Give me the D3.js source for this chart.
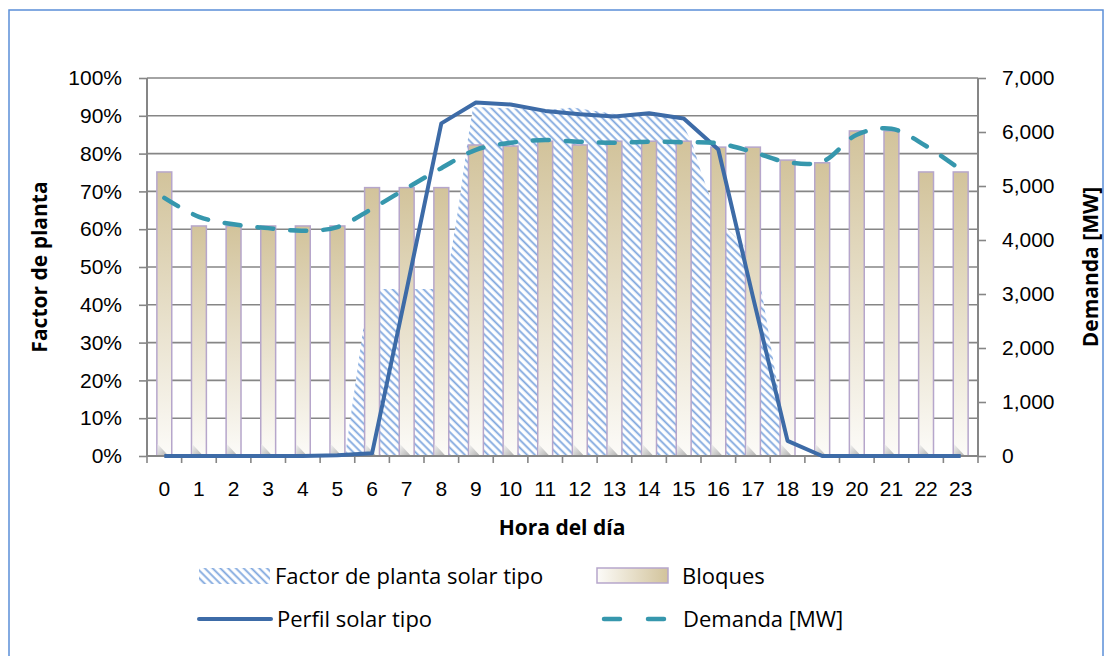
<!DOCTYPE html>
<html>
<head>
<meta charset="utf-8">
<script src="https://cdn.jsdelivr.net/npm/d3@7/dist/d3.min.js"></script>
<style>
  html, body { margin: 0; padding: 0; background: #fff; }
  svg { display: block; font-family: "Open Sans", Lato, sans-serif; }
  .tick-label { font-size: 21px; fill: #000; }
  .axis-title { font-size: 21px; font-weight: bold; fill: #000; }
  .legend-label { font-size: 22px; fill: #000; }
</style>
</head>
<body>
<svg id="chart" width="1113" height="656"></svg>
<script>
(function () {

    // categories (hora del dia)
    var horas = d3.range(0, 24);

    // Bloques [MW] (bars, right axis)
    var bloques = [5260, 4260, 4260, 4260, 4260, 4260, 4970, 4970, 4970, 5760, 5740, 5830,
                   5760, 5830, 5830, 5830, 5720, 5720, 5480, 5430, 6020, 6020, 5260, 5260];

    // Demanda [MW] (dashed line, right axis)
    var demanda = [4780, 4430, 4290, 4220, 4170, 4240, 4580, 4960, 5330, 5670, 5800, 5850,
                   5820, 5800, 5820, 5810, 5790, 5630, 5440, 5450, 5950, 6060, 5740, 5300];

    // Perfil solar tipo (solid line, left axis)
    var perfilSolar = [0, 0, 0, 0, 0, 0.002, 0.007, 0.44, 0.88, 0.935, 0.93, 0.913,
                       0.904, 0.898, 0.907, 0.893, 0.811, 0.421, 0.04, 0, 0, 0, 0, 0];

    // Factor de planta solar tipo (hatched area, left axis), sub-hourly points
    var factorHoras = [5.72, 6.24, 6.41, 8.62, 8.75, 9.0, 9.27, 9.42, 10.5, 11.5, 12.3, 13.5,
                       14.5, 15.2, 15.45, 15.74, 15.97, 16.26, 16.72, 17.27, 17.73, 18.28, 18.57, 18.75];
    var factorValores = [0, 0.333, 0.442, 0.442, 0.52, 0.66, 0.84, 0.923, 0.92, 0.915, 0.922, 0.905,
                         0.90, 0.895, 0.88, 0.83, 0.76, 0.685, 0.605, 0.555, 0.447, 0.148, 0.03, 0];

    var ticksIzq = d3.range(0, 1.0001, 0.1);
    var ticksDer = d3.range(0, 7001, 1000);

    var svg = d3.select('#chart');
    var plot = { left: 147, right: 978, top: 78, bottom: 456 };

    var x = d3.scaleBand().domain(horas).range([plot.left, plot.right]);
    var xh = d3.scaleLinear().domain([0, 24]).range([plot.left, plot.right]);
    var yL = d3.scaleLinear().domain([0, 1]).range([plot.bottom, plot.top]);
    var yR = d3.scaleLinear().domain([0, 7000]).range([plot.bottom, plot.top]);

    var barW = x.bandwidth() * 0.43;
    var cx = function (h) { return x(h) + x.bandwidth() / 2; };

    var defs = svg.append('defs');

    var pat = defs.append('pattern')
        .attr('id', 'hatch')
        .attr('patternUnits', 'userSpaceOnUse')
        .attr('width', 5.5).attr('height', 5.5)
        .attr('patternTransform', 'rotate(-45)');
    pat.append('rect').attr('width', 5.5).attr('height', 5.5).attr('fill', '#fff');
    pat.append('line')
        .attr('x1', 1.5).attr('y1', 0).attr('x2', 1.5).attr('y2', 5.5)
        .attr('stroke', '#7ea6de').attr('stroke-width', 1.8);

    var grad = defs.append('linearGradient')
        .attr('id', 'barGrad')
        .attr('x1', 0).attr('y1', 0).attr('x2', 0).attr('y2', 1);
    grad.append('stop').attr('offset', '0%').attr('stop-color', '#d2c39b');
    grad.append('stop').attr('offset', '100%').attr('stop-color', '#fcfbf8');

    var legGrad = defs.append('linearGradient')
        .attr('id', 'legGrad')
        .attr('x1', 0).attr('y1', 0).attr('x2', 1).attr('y2', 0);
    legGrad.append('stop').attr('offset', '0%').attr('stop-color', '#fcfbf8');
    legGrad.append('stop').attr('offset', '100%').attr('stop-color', '#d2c39b');

    var shade = defs.append('linearGradient')
        .attr('id', 'shade')
        .attr('x1', 0).attr('y1', 0).attr('x2', 1).attr('y2', 1);
    shade.append('stop').attr('offset', '0%').attr('stop-color', '#f0f0f0');
    shade.append('stop').attr('offset', '100%').attr('stop-color', '#9a9a9a');

    // outer frame
    svg.append('rect')
        .attr('x', 9).attr('y', 10).attr('width', 1094).attr('height', 700)
        .attr('fill', 'none').attr('stroke', '#5b8fd8').attr('stroke-width', 1.5);

    // gridlines
    svg.append('g').selectAll('line').data(ticksIzq).join('line')
        .attr('x1', plot.left).attr('x2', plot.right)
        .attr('y1', function (d) { return yL(d); }).attr('y2', function (d) { return yL(d); })
        .attr('stroke', '#868686').attr('stroke-width', 1.6);

    // hatched area
    var areaData = factorHoras.map(function (h, i) { return [h, factorValores[i]]; });
    svg.append('path')
        .datum(areaData)
        .attr('fill', 'url(#hatch)')
        .attr('d', d3.area()
            .x(function (d) { return xh(d[0]); })
            .y0(plot.bottom)
            .y1(function (d) { return yL(d[1]); }));

    // bars
    var bars = svg.append('g').selectAll('g').data(horas).join('g');
    bars.append('rect')
        .attr('x', function (d) { return cx(d) - barW / 2; })
        .attr('y', function (d) { return yR(bloques[d]); })
        .attr('width', barW)
        .attr('height', function (d) { return plot.bottom - yR(bloques[d]); })
        .attr('fill', 'url(#barGrad)')
        .attr('stroke', '#b6a6cb').attr('stroke-width', 1.5);
    bars.append('path')
        .attr('d', function (d) {
            var x0 = cx(d) - barW / 2 + 0.8;
            return 'M' + x0 + ',' + (plot.bottom - 12) + 'L' + (x0 + 11) + ',' + plot.bottom + 'L' + x0 + ',' + plot.bottom + 'Z';
        })
        .attr('fill', 'url(#shade)').attr('opacity', 0.8);

    // axes
    var axisColor = '#868686';
    var gL = svg.append('g').attr('transform', 'translate(' + plot.left + ',0)')
        .call(d3.axisLeft(yL).tickValues(ticksIzq).tickSize(8).tickPadding(17)
            .tickFormat(d3.format('.0%')));
    var gR = svg.append('g').attr('transform', 'translate(' + plot.right + ',0)')
        .call(d3.axisRight(yR).tickValues(ticksDer).tickSize(8).tickPadding(16)
            .tickFormat(d3.format(',')));
    var gB = svg.append('g').attr('transform', 'translate(0,' + plot.bottom + ')')
        .call(d3.axisBottom(x).tickSize(0).tickPadding(25));

    [gL, gR, gB].forEach(function (g) {
        g.select('.domain').attr('stroke', axisColor).attr('stroke-width', 2);
        g.selectAll('.tick line').attr('stroke', axisColor).attr('stroke-width', 1.6);
        g.selectAll('.tick text').attr('class', 'tick-label').attr('font-family', null).attr('font-size', null);
    });
    gL.select('.domain').attr('d', 'M0,' + plot.top + 'V' + plot.bottom);
    gR.select('.domain').attr('d', 'M0,' + plot.top + 'V' + plot.bottom);
    gB.select('.domain').attr('d', 'M' + plot.left + ',0H' + plot.right);

    // category boundary ticks
    gB.append('g').selectAll('line').data(d3.range(0, 25)).join('line')
        .attr('x1', function (d) { return xh(d); }).attr('x2', function (d) { return xh(d); })
        .attr('y1', 0).attr('y2', 7)
        .attr('stroke', axisColor).attr('stroke-width', 1.6);

    // solar profile line
    svg.append('path')
        .datum(perfilSolar)
        .attr('fill', 'none')
        .attr('stroke', '#3d6ba7').attr('stroke-width', 4)
        .attr('stroke-linejoin', 'round')
        .attr('d', d3.line()
            .x(function (d, i) { return cx(i); })
            .y(function (d) { return yL(d); }));

    // demand line
    svg.append('path')
        .datum(demanda)
        .attr('fill', 'none')
        .attr('stroke', '#3697ad').attr('stroke-width', 4.5)
        .attr('stroke-linecap', 'round')
        .attr('stroke-dasharray', '16,17')
        .attr('d', d3.line()
            .curve(d3.curveCatmullRom.alpha(0.5))
            .x(function (d, i) { return cx(i); })
            .y(function (d) { return yR(d); }));

    // axis titles
    svg.append('text').attr('class', 'axis-title')
        .attr('transform', 'translate(47,267) rotate(-90)')
        .attr('text-anchor', 'middle').text('Factor de planta');
    svg.append('text').attr('class', 'axis-title')
        .attr('transform', 'translate(1098,267) rotate(-90)')
        .attr('text-anchor', 'middle').text('Demanda [MW]');
    svg.append('text').attr('class', 'axis-title')
        .attr('x', 562).attr('y', 535)
        .attr('text-anchor', 'middle').text('Hora del día');

    // legend
    var leg = svg.append('g');
    leg.append('rect').attr('x', 199).attr('y', 568).attr('width', 71).attr('height', 16)
        .attr('fill', 'url(#hatch)');
    leg.append('text').attr('class', 'legend-label').attr('x', 275).attr('y', 584)
        .text('Factor de planta solar tipo');

    leg.append('rect').attr('x', 597).attr('y', 568).attr('width', 71).attr('height', 15)
        .attr('fill', 'url(#legGrad)').attr('stroke', '#b6a6cb').attr('stroke-width', 1.5);
    leg.append('text').attr('class', 'legend-label').attr('x', 682).attr('y', 584)
        .text('Bloques');

    leg.append('line').attr('x1', 199).attr('x2', 271).attr('y1', 619).attr('y2', 619)
        .attr('stroke', '#3d6ba7').attr('stroke-width', 4).attr('stroke-linecap', 'round');
    leg.append('text').attr('class', 'legend-label').attr('x', 277).attr('y', 627)
        .text('Perfil solar tipo');

    leg.append('line').attr('x1', 604).attr('x2', 668).attr('y1', 619).attr('y2', 619)
        .attr('stroke', '#3697ad').attr('stroke-width', 4.5).attr('stroke-linecap', 'round')
        .attr('stroke-dasharray', '16,28');
    leg.append('text').attr('class', 'legend-label').attr('x', 683).attr('y', 627)
        .text('Demanda [MW]');

})();
</script>
</body>
</html>
